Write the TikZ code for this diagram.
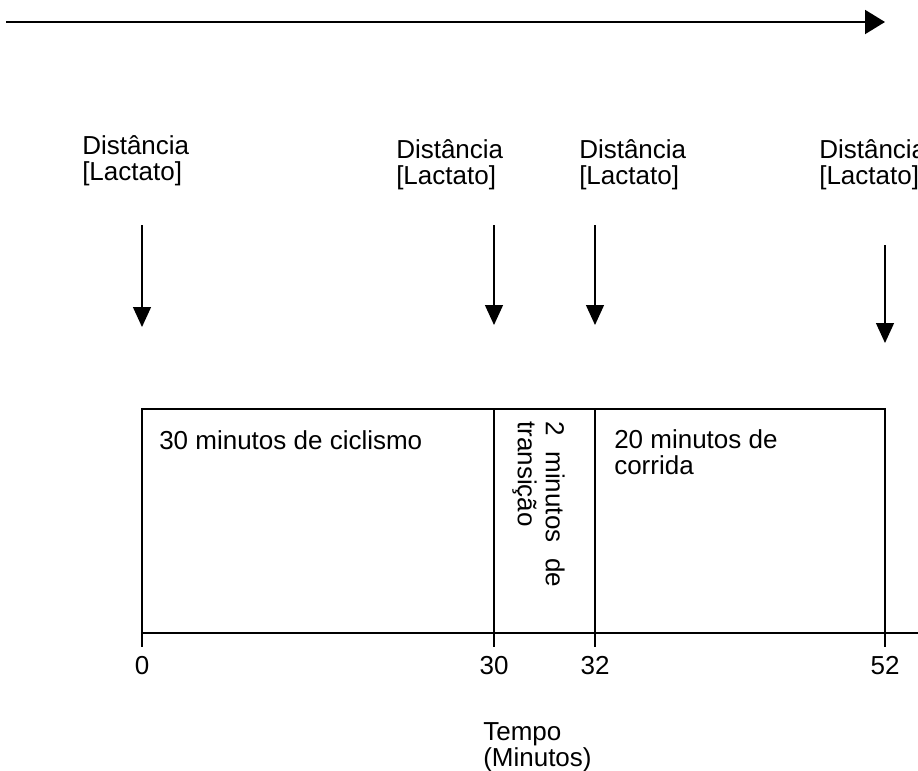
\documentclass[tikz,border=0pt]{standalone}
\usepackage{fontspec}
\setmainfont{Liberation Sans}
\usetikzlibrary{arrows.meta}
\begin{document}
\begin{tikzpicture}[x=0.75pt,y=-0.75pt,
  txt/.style={inner sep=0pt, font=\fontsize{19.5}{19.2}\selectfont},
  lbl/.style={txt, anchor=base west, align=left},
  tick/.style={txt, anchor=base},
  frame/.style={line width=1.1pt},
  marker/.style={line width=1pt, -{Triangle[length=15pt,width=13.5pt]}},
  timeline/.style={line width=1.5pt, -{Triangle[length=15pt,width=18pt]}}]
\useasboundingbox (0,0) rectangle (918,771);

% top arrow
\coordinate (ts) at (6,22);
\coordinate (te) at (885,22);
\draw[timeline] (ts) -- (te);

% labels (anchor = baseline of last line)
\node[lbl] (l0) at (82,180) {Distância\\{}[Lactato]};
\node[lbl] (l30) at (396,184) {Distância\\{}[Lactato]};
\node[lbl] (l32) at (579,184) {Distância\\{}[Lactato]};
\node[lbl] (l52) at (819,184) {Distância\\{}[Lactato]};

% arrows
\coordinate (a0s) at (142,225); \coordinate (a0e) at (142,327);
\coordinate (a30s) at (494,225); \coordinate (a30e) at (494,325);
\coordinate (a32s) at (595,225); \coordinate (a32e) at (595,325);
\coordinate (a52s) at (885,245); \coordinate (a52e) at (885,343);
\draw[marker] (a0s) -- (a0e);
\draw[marker] (a30s) -- (a30e);
\draw[marker] (a32s) -- (a32e);
\draw[marker] (a52s) -- (a52e);

% box
\coordinate (b0t) at (142,409); \coordinate (b0b) at (142,633);
\coordinate (b30t) at (494,409); \coordinate (b30b) at (494,633);
\coordinate (b32t) at (595,409); \coordinate (b32b) at (595,633);
\coordinate (b52t) at (885,409); \coordinate (b52b) at (885,633);
\draw[frame] (b0b) -- (b0t) -- (b52t) -- (b52b);
\draw[frame] (b30t) -- (b30b);
\draw[frame] (b32t) -- (b32b);

% axis
\coordinate (axe) at (918,633);
\draw[line width=1.5pt] (b0b) -- (axe);
\foreach \x in {142,494,595,885} \draw[frame] (\x,633) -- (\x,647);

\node[lbl] (cic) at (159,449) {30 minutos de ciclismo};
\node[lbl] (cor) at (614,474) {20 minutos de\\corrida};
\node[txt, rotate=-90, anchor=north west] (tra) at (565,421)
  {\parbox{124.5pt}{\fontsize{19.5}{21}\selectfont 2\hfill minutos\hfill de\\transição}};

\node[tick] (t0) at (142,674) {0};
\node[tick] (t30) at (494,674) {30};
\node[tick] (t32) at (595,674) {32};
\node[tick] (t52) at (885,674) {52};

\node[lbl] (tempo) at (483,766) {Tempo\\(Minutos)};
\end{tikzpicture}
\end{document}
